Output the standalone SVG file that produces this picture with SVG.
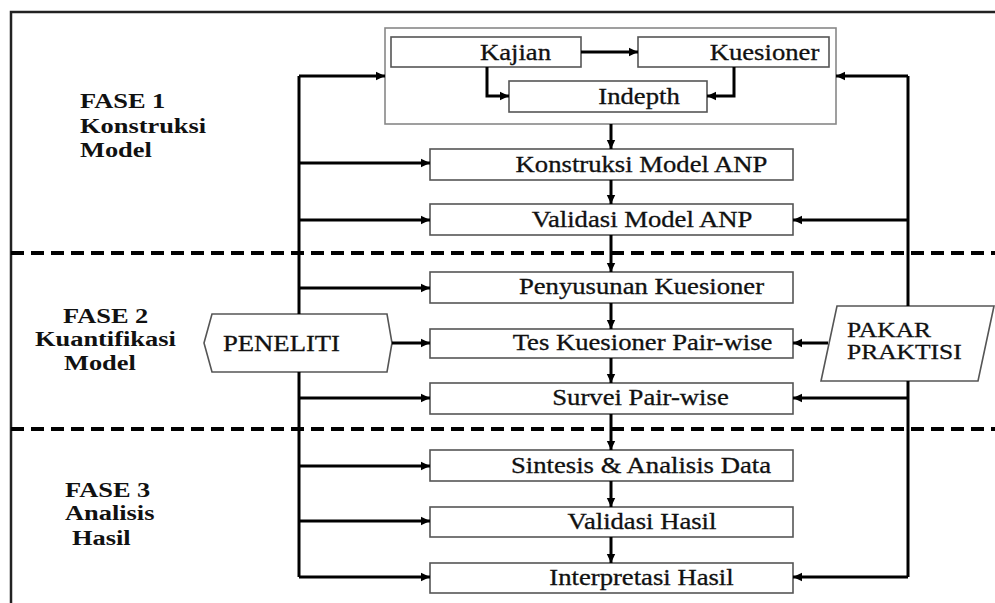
<svg xmlns="http://www.w3.org/2000/svg" width="995" height="603" viewBox="0 0 995 603">
<defs>
<marker id="ah" markerUnits="userSpaceOnUse" markerWidth="10" markerHeight="10" refX="9" refY="5" orient="auto">
<path d="M0,0.8 L9,5 L0,9.2 z" fill="#000"/>
</marker>
<style>
.box{fill:#fff;stroke:#555;stroke-width:1.6}
.grp{fill:#fff;stroke:#888;stroke-width:1.6}
.t{font-family:'Times New Roman','Liberation Serif',Tinos,'DejaVu Serif',serif;font-size:23px;fill:#111;stroke:#111;stroke-width:0.3;text-anchor:middle}
.s{text-anchor:start}
.k{font-size:22px}
.p{font-family:'Times New Roman','Liberation Serif',Tinos,'DejaVu Serif',serif;font-size:22px;font-weight:bold;fill:#111}
.c{fill:none;stroke:#000;stroke-width:3}
.a{fill:none;stroke:#000;stroke-width:3;marker-end:url(#ah)}
.d{fill:none;stroke:#000;stroke-width:4;stroke-dasharray:13 7}
.f{fill:none;stroke:#222;stroke-width:2.5}
</style>
</defs>
<rect width="995" height="603" fill="#fff"/>
<g id="frame">
<path class="f" d="M11,603 V12 H995"/>
<path class="d" d="M11,253 H995"/>
<path class="d" d="M11,429 H995"/>
</g>
<g id="phase1"><text class="p" transform="translate(80,108) scale(1.2,1)">FASE 1</text><text class="p" transform="translate(80,133) scale(1.2,1)">Konstruksi</text><text class="p" transform="translate(80,157) scale(1.2,1)">Model</text></g>
<g id="phase2"><text class="p" transform="translate(63,323) scale(1.2,1)">FASE 2</text><text class="p" transform="translate(35,346) scale(1.2,1)">Kuantifikasi</text><text class="p" transform="translate(64,370) scale(1.2,1)">Model</text></g>
<g id="phase3"><text class="p" transform="translate(65,497) scale(1.2,1)">FASE 3</text><text class="p" transform="translate(65,520) scale(1.2,1)">Analisis</text><text class="p" transform="translate(72,545) scale(1.2,1)">Hasil</text></g>
<g id="group1"><rect class="grp" x="385" y="28" width="451" height="96"/></g>
<g id="kajian"><rect class="box" x="391" y="37" width="190" height="30"/><text class="t" transform="translate(515.5,60) scale(1.16,1)">Kajian</text></g>
<g id="kuesioner"><rect class="box" x="638" y="37" width="191" height="30"/><text class="t" transform="translate(764.5,60) scale(1.16,1)">Kuesioner</text></g>
<g id="indepth"><rect class="box" x="509" y="81" width="198" height="31"/><text class="t" transform="translate(639,104) scale(1.16,1)">Indepth</text></g>
<g id="konstruksi"><rect class="box" x="430" y="149" width="363" height="31"/><text class="t" transform="translate(641.5,172) scale(1.16,1)">Konstruksi Model ANP</text></g>
<g id="validasi-model"><rect class="box" x="430" y="204" width="363" height="31"/><text class="t" transform="translate(642,227) scale(1.16,1)">Validasi Model ANP</text></g>
<g id="penyusunan"><rect class="box" x="430" y="272" width="363" height="31"/><text class="t" transform="translate(641.5,294) scale(1.16,1)">Penyusunan Kuesioner</text></g>
<g id="tes"><rect class="box" x="430" y="329" width="363" height="29"/><text class="t" transform="translate(642.5,350) scale(1.16,1)">Tes Kuesioner Pair-wise</text></g>
<g id="survei"><rect class="box" x="430" y="383" width="363" height="31"/><text class="t" transform="translate(640.5,405) scale(1.16,1)">Survei Pair-wise</text></g>
<g id="sintesis"><rect class="box" x="430" y="450" width="363" height="31"/><text class="t" transform="translate(641,473) scale(1.16,1)">Sintesis &amp; Analisis Data</text></g>
<g id="validasi-hasil"><rect class="box" x="430" y="507" width="363" height="30"/><text class="t" transform="translate(642,529) scale(1.16,1)">Validasi Hasil</text></g>
<g id="interpretasi"><rect class="box" x="430" y="563" width="363" height="30"/><text class="t" transform="translate(641.5,585) scale(1.16,1)">Interpretasi Hasil</text></g>
<g id="peneliti"><polygon class="box" points="204,343 212,314 387,314 392,343 387,372 212,372"/><text class="t s" transform="translate(223,351) scale(1.16,1)">PENELITI</text></g>
<g id="pakar"><polygon class="box" points="837,306 994,306 978,381 821,381"/><text class="t s k" transform="translate(847,337) scale(1.16,1)">PAKAR</text><text class="t s k" transform="translate(847,359) scale(1.16,1)">PRAKTISI</text></g>
<g id="connectors">
<path class="a" d="M581,52 H638"/>
<path class="a" d="M487,67 V96 H509"/>
<path class="a" d="M734,67 V96 H707"/>
<path class="a" d="M611,124 V149"/>
<path class="a" d="M611,180 V204"/>
<path class="a" d="M611,235 V272"/>
<path class="a" d="M611,303 V329"/>
<path class="a" d="M611,358 V383"/>
<path class="a" d="M611,414 V450"/>
<path class="a" d="M611,481 V507"/>
<path class="a" d="M611,537 V563"/>
<path class="c" d="M299,314 V76"/>
<path class="a" d="M299,76 H385"/>
<path class="a" d="M299,163 H430"/>
<path class="a" d="M299,220 H430"/>
<path class="a" d="M299,288 H430"/>
<path class="a" d="M392,343 H430"/>
<path class="c" d="M299,372 V577"/>
<path class="a" d="M299,398 H430"/>
<path class="a" d="M299,466 H430"/>
<path class="a" d="M299,521 H430"/>
<path class="a" d="M299,577 H430"/>
<path class="c" d="M908,306 V76"/>
<path class="a" d="M908,76 H836"/>
<path class="a" d="M908,220 H793"/>
<path class="a" d="M828,343 H793"/>
<path class="c" d="M908,381 V577"/>
<path class="a" d="M908,398 H793"/>
<path class="a" d="M908,577 H793"/>
</g>
</svg>
